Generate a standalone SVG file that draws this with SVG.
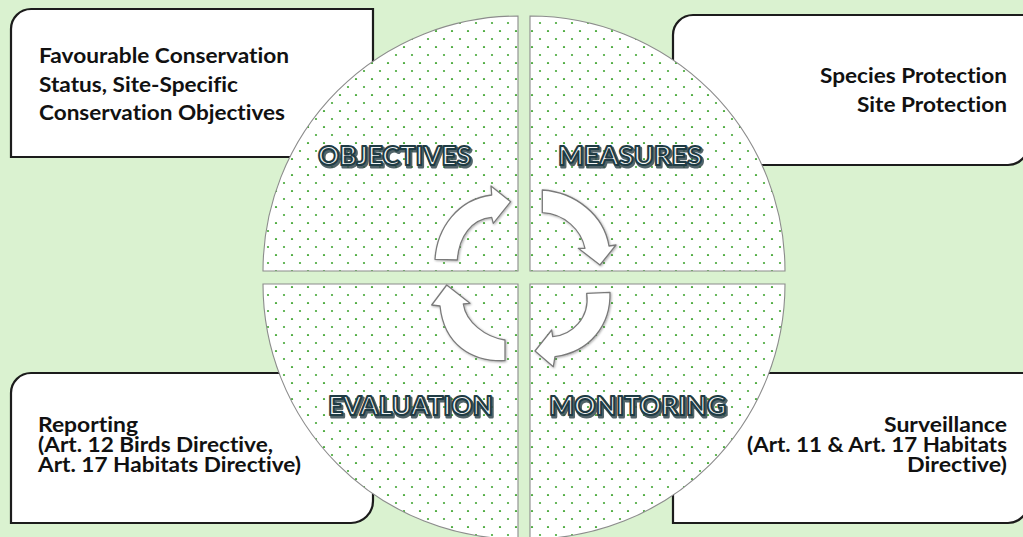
<svg xmlns="http://www.w3.org/2000/svg" width="1023" height="537" viewBox="0 0 1023 537">
<style>
.box{fill:#ffffff;stroke:#1c1c1c;stroke-width:2.2}
.quad{fill:url(#dots);stroke:#8c8c8c;stroke-width:1.1}
.txt{font-family:Lato,"Liberation Sans",sans-serif;font-weight:bold;font-size:21.5px;fill:#111111;font-variant-ligatures:none}
.tight{font-size:20.5px}
.lbl{font-family:Lato,"Liberation Sans",sans-serif;font-weight:bold;font-size:27px;font-variant-ligatures:none}
.lbl-sh{fill:#34494f;stroke:#34494f;stroke-width:3;stroke-linejoin:round;opacity:0.85}
.lbl-main{fill:#f4f7f7;stroke:#1f3c45;stroke-width:2;stroke-linejoin:round}
.arrow{fill:#ffffff;stroke:#7a7a7a;stroke-width:1.3;stroke-linejoin:round;filter:url(#sh)}
</style>
<defs>
<pattern id="dots" patternUnits="userSpaceOnUse" x="0" y="0" width="16" height="16">
<rect width="16" height="16" fill="#ffffff"/>
<circle cx="4" cy="15" r="1.1" fill="#45a836"/>
<circle cx="12" cy="7" r="1.1" fill="#45a836"/>
</pattern>
<filter id="sh" x="-20%" y="-20%" width="140%" height="140%">
<feDropShadow dx="0.8" dy="0.8" stdDeviation="0.8" flood-color="#000000" flood-opacity="0.35"/>
</filter>
</defs>
<rect width="1023" height="537" fill="#daf2d0"/>

<g id="box-objectives">
<path class="box" d="M11,157 L11,29 A20,20 0 0 1 31,9 L373,9 L373,157 Z"/>
<text class="txt" x="39" y="63" textLength="250" lengthAdjust="spacingAndGlyphs">Favourable Conservation</text>
<text class="txt" x="39" y="91.5" textLength="199" lengthAdjust="spacingAndGlyphs">Status, Site-Specific</text>
<text class="txt" x="39" y="120" textLength="246" lengthAdjust="spacingAndGlyphs">Conservation Objectives</text>
</g>

<g id="box-measures">
<path class="box" d="M673,165 L673,35 A20,20 0 0 1 693,15 L1028,15 L1028,145 A20,20 0 0 1 1008,165 Z"/>
<text class="txt" x="820" y="83" textLength="187" lengthAdjust="spacingAndGlyphs">Species Protection</text>
<text class="txt" x="857" y="112" textLength="150" lengthAdjust="spacingAndGlyphs">Site Protection</text>
</g>

<g id="box-evaluation">
<path class="box" d="M11,523 L11,393 A20,20 0 0 1 31,373 L373,373 L373,501 A22,22 0 0 1 351,523 Z"/>
<text class="txt tight" x="38" y="432" textLength="100" lengthAdjust="spacingAndGlyphs">Reporting</text>
<text class="txt tight" x="38" y="452" textLength="235" lengthAdjust="spacingAndGlyphs">(Art. 12 Birds Directive,</text>
<text class="txt tight" x="38" y="472" textLength="263" lengthAdjust="spacingAndGlyphs">Art. 17 Habitats Directive)</text>
</g>

<g id="box-monitoring">
<path class="box" d="M673,523 L673,373 L1028,373 L1028,503 A20,20 0 0 1 1008,523 Z"/>
<text class="txt tight" x="884" y="432" textLength="123" lengthAdjust="spacingAndGlyphs">Surveillance</text>
<text class="txt tight" x="747" y="452" textLength="260" lengthAdjust="spacingAndGlyphs">(Art. 11 &amp; Art. 17 Habitats</text>
<text class="txt tight" x="907" y="472" textLength="100" lengthAdjust="spacingAndGlyphs">Directive)</text>
</g>

<g id="quad-objectives">
<path class="quad" d="M518,271 L263,271 A255,255 0 0 1 518,16 Z"/>
<text class="lbl lbl-sh" x="319.5" y="166.5" textLength="153" lengthAdjust="spacingAndGlyphs">OBJECTIVES</text>
<text class="lbl lbl-main" x="318" y="165" textLength="153" lengthAdjust="spacingAndGlyphs">OBJECTIVES</text>
</g>

<g id="quad-measures">
<path class="quad" d="M530,271 L530,16 A255,255 0 0 1 785,271 Z"/>
<text class="lbl lbl-sh" x="559.5" y="166.5" textLength="144" lengthAdjust="spacingAndGlyphs">MEASURES</text>
<text class="lbl lbl-main" x="558" y="165" textLength="144" lengthAdjust="spacingAndGlyphs">MEASURES</text>
</g>

<g id="quad-evaluation">
<path class="quad" d="M518,284 L518,539 A255,255 0 0 1 263,284 Z"/>
<text class="lbl lbl-sh" x="329.5" y="416.5" textLength="165" lengthAdjust="spacingAndGlyphs">EVALUATION</text>
<text class="lbl lbl-main" x="328" y="415" textLength="165" lengthAdjust="spacingAndGlyphs">EVALUATION</text>
</g>

<g id="quad-monitoring">
<path class="quad" d="M530,284 L785,284 A255,255 0 0 1 530,539 Z"/>
<text class="lbl lbl-sh" x="550.5" y="416.5" textLength="177" lengthAdjust="spacingAndGlyphs">MONITORING</text>
<text class="lbl lbl-main" x="549" y="415" textLength="177" lengthAdjust="spacingAndGlyphs">MONITORING</text>
</g>

<g id="connectors">
<path class="arrow" d="M435,259.3 C437,228 458,199 491.7,195 L491,186 L510.7,201.7 L493.3,223.3 L491.7,217.3 C472,219 459,236 457.3,260 Z"/>
<path class="arrow" d="M542.3,190 C575,192 604,215 609,246 L616,245 L600,265 L578.3,248.3 L585,248.3 C581,230 565,214 542.3,212.7 Z"/>
<path class="arrow" d="M586.7,293.3 C590,318 572,335 552.7,336.7 L551.7,330 L535,351 L553.3,366.7 L555,356.7 C590,352 611,325 610,292.3 Z"/>
<path class="arrow" d="M505,340 C485,337 466,322 463.3,304 L470,303.3 L446.7,285 L431.7,305 L440,306 C444,345 472,362 505,360.7 Z"/>
</g>
</svg>
